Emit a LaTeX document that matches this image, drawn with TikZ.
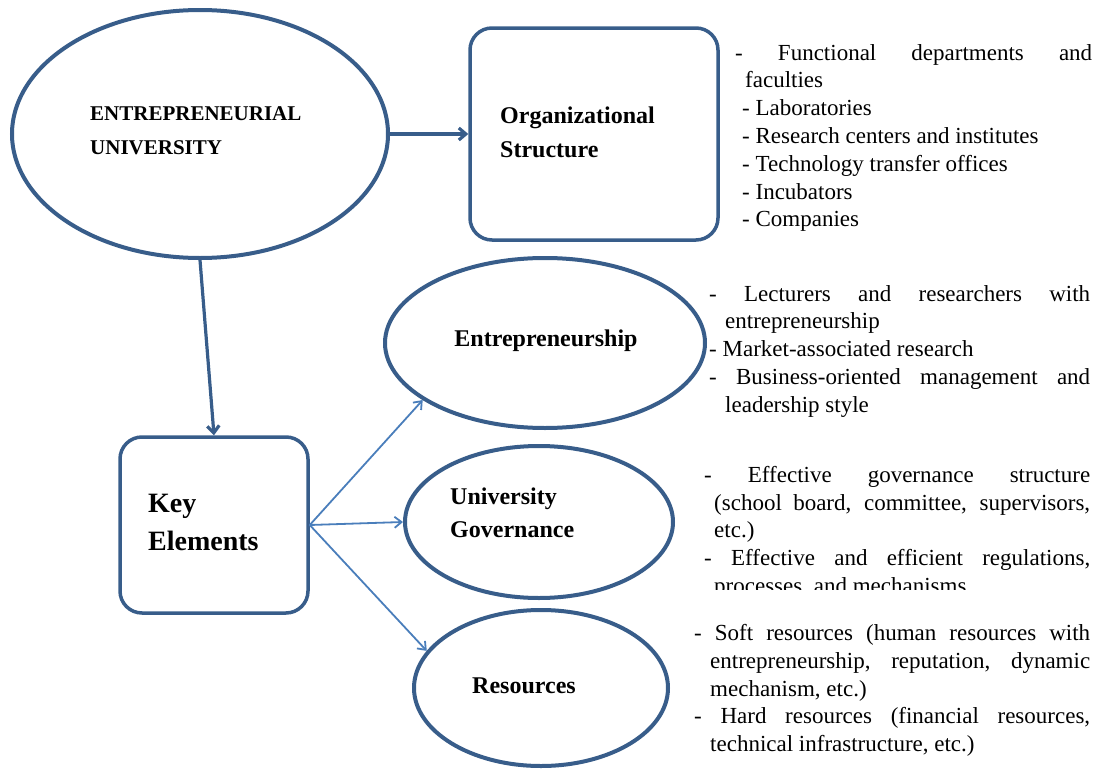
\documentclass[tikz,border=0pt]{standalone}
\usepackage{fontspec}
\setmainfont{Liberation Serif}
\usetikzlibrary{arrows.meta,positioning,shapes.geometric}
\definecolor{navy}{HTML}{385D8A}
\definecolor{steel}{HTML}{4A7EBB}
\newcommand{\jl}[3]{\hspace*{#1}\makebox[#2][s]{#3}}

\begin{document}
\begin{tikzpicture}[x=1pt,y=-1pt, every node/.style={inner sep=0pt},
  oval/.style={ellipse,draw=navy,line width=4pt},
  box/.style={rounded corners=22pt,draw=navy,line width=3.5pt},
  lbl/.style={font=\fontsize{24}{34}\selectfont\bfseries,align=left},
  lst/.style={font=\fontsize{23}{27.8}\selectfont,align=left,anchor=north west},
  a/.style={-{Straight Barb[length=7pt,width=12pt]},draw=navy,line width=3.2pt},
  b/.style={-{Straight Barb[length=7pt,width=11pt]},draw=steel,line width=1.8pt}]
  \useasboundingbox (0,0) rectangle (1096,771);
  \node[oval,minimum width=376pt,minimum height=248pt] (eu) at (200,134) {};
  \node[box,minimum width=248pt,minimum height=212pt] (org) at (594,134) {};
  \node[box,minimum width=188pt,minimum height=176pt] (key) at (214,525) {};
  \node[oval,minimum width=320pt,minimum height=170pt] (ent) at (545,343) {};
  \node[oval,minimum width=268pt,minimum height=152pt] (gov) at (539,522) {};
  \node[oval,minimum width=254pt,minimum height=156pt] (res) at (541,688) {};

  \node[lbl,anchor=north west,font=\fontsize{21}{34}\selectfont\bfseries] (eutxt) at (90,106) {ENTREPRENEURIAL\\UNIVERSITY};
  \node[lbl,anchor=north west] (orgtxt) at (500,107) {Organizational\\Structure};
  \node[lbl,anchor=north west,font=\fontsize{28}{38}\selectfont\bfseries] (keytxt) at (148,494) {Key\\Elements};
  \node[lbl] (enttxt) at (546,341) {Entrepreneurship};
  \node[lbl,anchor=north west,font=\fontsize{24}{33}\selectfont\bfseries] (govtxt) at (450,488) {University\\Governance};
  \node[lbl] (restxt) at (524,686) {Resources};

  \node[lst] (orglist) at (735,44) {\jl{0pt}{357pt}{- Functional departments and}\\
    \hspace*{10pt}faculties\\ \hspace*{7pt}- Laboratories\\ \hspace*{7pt}- Research centers and institutes\\
    \hspace*{7pt}- Technology transfer offices\\ \hspace*{7pt}- Incubators\\ \hspace*{7pt}- Companies};
  \node[lst] (entlist) at (709,285) {\jl{0pt}{381pt}{- Lecturers and researchers with}\\
    \hspace*{16pt}entrepreneurship\\ - Market-associated research\\
    \jl{0pt}{381pt}{- Business-oriented management and}\\ \hspace*{16pt}leadership style};
  \begin{scope}
    \clip (690,455) rectangle (1096,589);
    \node[lst] (govlist) at (704,466) {\jl{0pt}{386pt}{- Effective governance structure}\\
      \jl{10pt}{376pt}{(school board, committee, supervisors,}\\ \hspace*{10pt}etc.)\\
      \jl{0pt}{386pt}{- Effective and efficient regulations,}\\ \hspace*{10pt}processes, and mechanisms};
  \end{scope}
  \node[lst] (reslist) at (694,624) {\jl{0pt}{396pt}{- Soft resources (human resources with}\\
    \jl{16pt}{380pt}{entrepreneurship, reputation, dynamic}\\ \hspace*{16pt}mechanism, etc.)\\
    \jl{0pt}{396pt}{- Hard resources (financial resources,}\\ \hspace*{16pt}technical infrastructure, etc.)};

  \draw[a] (eu.east) -- (org.west);
  \draw[a] (eu.south) -- (key.north);
  \draw[b] (key.east) -- (ent.205);
  \draw[b] (key.east) -- (gov.west);
  \draw[b] (key.east) -- (res.162);
\end{tikzpicture}
\end{document}
